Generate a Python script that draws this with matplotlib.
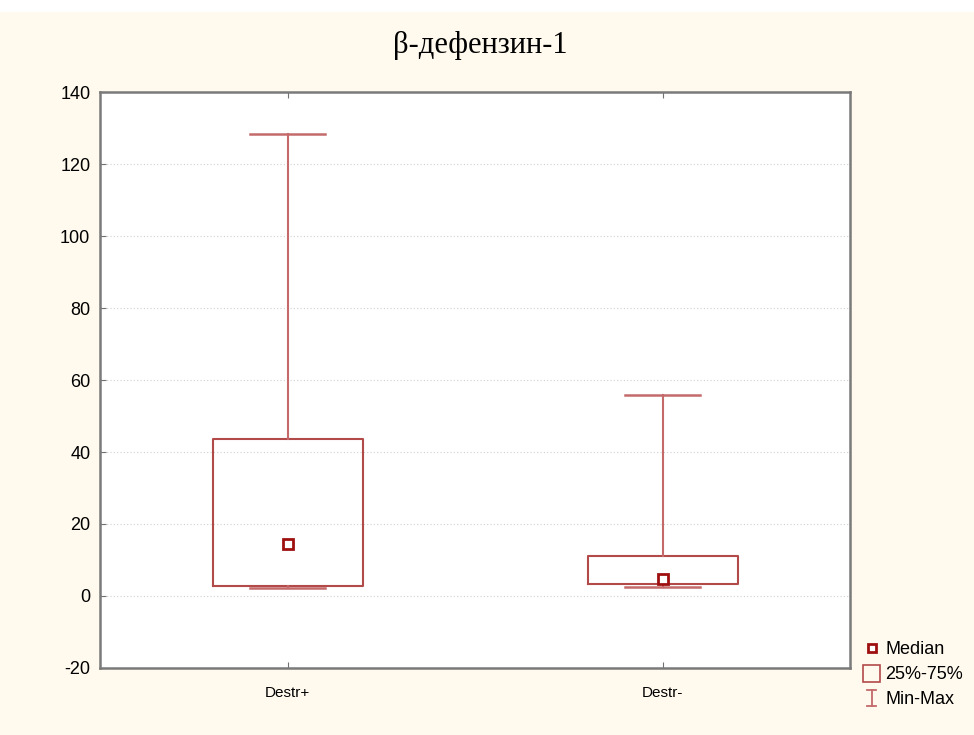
import matplotlib
matplotlib.use("Agg")
import matplotlib.pyplot as plt
from matplotlib.patches import Rectangle
from matplotlib.lines import Line2D
from matplotlib.legend_handler import HandlerBase

plt.rcParams["axes.unicode_minus"] = False

# ---- data ----
categories = ["Destr+", "Destr-"]
medians = [14.4, 4.7]
q1 = [2.8, 3.3]
q3 = [43.6, 11.1]
mins = [2.2, 2.5]
maxs = [128.3, 55.8]
yticks = [-20, 0, 20, 40, 60, 80, 100, 120, 140]
title = "β-дефензин-1"
legend_labels = ["Median", "25%-75%", "Min-Max"]

box_color = "#B24A4A"
whisk_color = "#C46A6A"
med_color = "#9E1010"
bg = "#FFF9EE"

fig = plt.figure(figsize=(9.74, 7.35), dpi=100, facecolor=bg)
fig.patches.append(Rectangle((0, 1 - 12 / 735), 1, 12 / 735, transform=fig.transFigure,
                             facecolor="white", edgecolor="none", zorder=0))
ax = fig.add_axes([100 / 974, 1 - 668 / 735, 750 / 974, 576 / 735])
ax.set_facecolor("white")

positions = list(range(len(categories)))
stats = []
for i in positions:
    stats.append(dict(med=medians[i], q1=q1[i], q3=q3[i], whislo=mins[i], whishi=maxs[i],
                      fliers=[], label=categories[i]))
ax.bxp(stats, positions=positions, widths=0.4, capwidths=0.2, showfliers=False,
       boxprops=dict(color=box_color, linewidth=1.5),
       whiskerprops=dict(color=whisk_color, linewidth=1.5),
       capprops=dict(color=whisk_color, linewidth=1.8),
       medianprops=dict(visible=False), zorder=3)
ax.plot(positions, medians, linestyle="none", marker="s", markersize=7,
        markerfacecolor="white", markeredgecolor=med_color, markeredgewidth=2, zorder=4)

ax.set_xlim(-0.5, 1.5)
ax.set_ylim(-20, 140)
ax.set_yticks(yticks)
ax.set_xticks(positions)
ax.set_xticklabels(categories, fontsize=11, family="Liberation Sans")
for lab in ax.get_yticklabels():
    lab.set_fontsize(13)
    lab.set_family("Liberation Sans")
ax.tick_params(axis="both", direction="in", length=4, color="#707070", top=True, right=False)
ax.tick_params(axis="x", pad=13)
ax.tick_params(axis="y", pad=7)
ax.yaxis.grid(True, linestyle=(0, (1, 2)), color="#D0D0D0", linewidth=0.8, zorder=0)
ax.set_axisbelow(True)
for s in ax.spines.values():
    s.set_color("#7A7A7A")
    s.set_linewidth(1.8)

fig.text(480 / 974, 1 - 46 / 735, title, ha="center", va="center",
         fontsize=22, family="Liberation Serif")


class HandlerMinMax(HandlerBase):
    def create_artists(self, legend, orig_handle, xdescent, ydescent, width, height, fontsize, trans):
        cx = width / 2 - xdescent
        h = height * 1.3
        y0 = -ydescent - 0.15 * height
        y1 = y0 + h
        w = width * 0.55
        return [
            Line2D([cx, cx], [y0, y1], color=whisk_color, lw=1.3, transform=trans),
            Line2D([cx - w / 2, cx + w / 2], [y0, y0], color=whisk_color, lw=1.3, transform=trans),
            Line2D([cx - w / 2, cx + w / 2], [y1, y1], color=whisk_color, lw=1.3, transform=trans),
        ]


class HandlerBox(HandlerBase):
    def create_artists(self, legend, orig_handle, xdescent, ydescent, width, height, fontsize, trans):
        s = height * 1.35
        cx = width / 2 - xdescent
        r = Rectangle((cx - s / 2, -ydescent - 0.2 * height), s, s, facecolor="none",
                      edgecolor=box_color, lw=1.2, transform=trans)
        return [r]


class _Box:
    pass


class _MM:
    pass


h_med = Line2D([], [], linestyle="none", marker="s", markersize=6,
               markerfacecolor="white", markeredgecolor=med_color, markeredgewidth=2)
leg = fig.legend([h_med, _Box(), _MM()], legend_labels,
                 handler_map={_Box: HandlerBox(), _MM: HandlerMinMax()},
                 loc="lower left", bbox_to_anchor=(851 / 974, 1 - 721 / 735),
                 frameon=False, prop=dict(family="Liberation Sans", size=13),
                 handlelength=0.9, handletextpad=0.3, labelspacing=0.45, borderpad=0.2)

fig.savefig("out.png", dpi=100, facecolor=bg)
